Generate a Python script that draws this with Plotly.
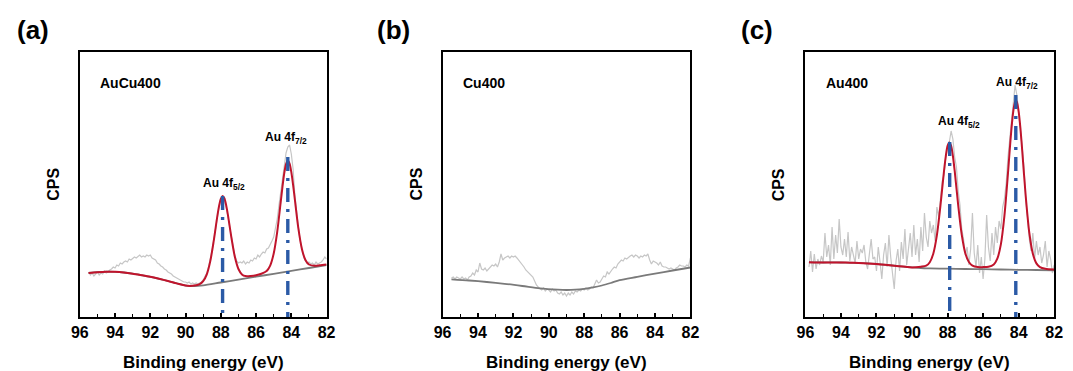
import numpy as np
import plotly.graph_objects as go

# ---------------- data ----------------
# energy grids (binding energy, eV) for the raw spectra
E_raw_ab = np.round(np.linspace(95.5, 82.0, 136), 2)
E_raw_c = np.round(np.linspace(95.8, 82.0, 139), 2)

# (a) AuCu400 raw spectrum (arbitrary CPS units)
raw_a = [45, 42, 44, 41, 43, 45, 42, 44, 43, 46, 44, 45, 47,
         48, 50, 49, 52, 51, 54, 53, 55, 56, 55, 58, 57, 59,
         60, 59, 61, 62, 60, 61, 60, 62, 61, 62, 59,
         58, 57, 54, 53, 51, 50, 48, 47, 45, 44, 43, 41, 40, 39,
         38, 37, 36, 35, 35, 34, 35, 33, 34, 33, 34, 33, 34, 35, 37,
         41, 44, 50, 57, 66, 77, 89, 101, 110, 117, 119, 118, 111, 101, 90, 79, 69, 61, 56,
         54, 55, 54, 56, 53, 55, 54, 57, 56, 59,
         58, 62, 60, 63, 65, 64, 68, 69, 72, 76,
         80, 88, 98, 112, 126, 140, 153, 164, 170, 172,
         163, 148, 122, 104, 90, 77, 67, 60, 56, 54,
         55, 53, 54, 52, 55, 53, 54, 55, 57, 60,
         58]

# (a) fit: energies, baseline and envelope
E_fit_a = [95.5, 95.0, 94.5, 94.0, 93.5, 93.0, 92.5, 92.0, 91.5, 91.0, 90.5, 90.0,
           89.5, 89.2, 89.0, 88.8, 88.6, 88.4, 88.2, 88.1, 88.0, 87.9, 87.8, 87.7,
           87.6, 87.4, 87.2, 87.0, 86.8, 86.6, 86.3, 86.0, 85.7, 85.4, 85.2, 85.0,
           84.8, 84.6, 84.5, 84.4, 84.3, 84.2, 84.1, 84.0, 83.9, 83.8, 83.6, 83.4,
           83.2, 83.0, 82.7, 82.4, 82.0]
env_a = [44.0, 44.8, 45.3, 45.2, 44.5, 43.3, 41.8, 40.2, 38.2, 36.0, 33.6, 31.4,
         31.4, 32.8, 35.8, 42.4, 55.6, 76.3, 100.6, 110.9, 118.1, 121.0, 118.7, 112.1,
         102.4, 79.5, 59.9, 48.0, 42.6, 40.9, 41.0, 41.7, 43.2, 45.9, 51.4, 63.5,
         85.2, 115.3, 130.5, 143.8, 152.9, 156.5, 153.4, 144.9, 132.2, 117.5, 88.6, 68.1,
         57.0, 52.5, 51.3, 51.7, 52.6]
E_base_a = [95.5, 95.0, 94.5, 94.0, 93.5, 93.0, 92.5, 92.0, 91.5, 91.0, 90.5, 90.0,
            89.5, 89.0, 88.0, 87.0, 86.0, 85.0, 84.0, 83.0, 82.0]
base_a = [44.0, 44.8, 45.3, 45.2, 44.5, 43.3, 41.8, 40.2, 38.2, 36.0, 33.6, 31.4,
          30.8, 31.6, 34.5, 37.4, 40.3, 43.2, 46.1, 49.0, 52.0]

# (b) Cu400 raw spectrum and baseline
raw_b = [39, 40, 38, 40, 39, 38, 40, 38, 39, 37, 40,
         41, 44, 42, 47, 45, 54, 48, 47, 49, 46,
         48, 50, 52, 51, 53, 50, 55, 63, 57, 59,
         60, 61, 59, 61, 60, 61, 59, 57, 55, 52,
         50, 47, 45, 44, 41, 40, 36, 32, 30, 28,
         27, 29, 26, 28, 27, 25, 28, 26, 27, 24,
         23, 25, 22, 24, 21, 24, 22, 25, 23, 26,
         25, 27, 26, 28, 27, 29, 27, 28, 30, 29,
         33, 37, 34, 35, 38, 41, 40, 45, 43, 46,
         48, 50, 49, 53, 55, 57, 56, 59, 58, 60,
         61, 62, 60, 62, 61, 59, 61, 60, 62, 61,
         63, 57, 53, 56, 55, 54, 52, 55, 51, 50,
         50, 49, 48, 49, 48, 47, 49, 50, 52, 51,
         51, 50, 52, 51, 59]
E_base_b = [95.5, 94.5, 93.5, 92.5, 91.5, 90.5, 89.5, 89.0, 88.5, 88.0, 87.5, 87.0,
            86.5, 86.0, 85.0, 84.0, 83.0, 82.0]
base_b = [37.7, 36.5, 35.0, 33.2, 31.0, 28.6, 27.3, 27.0, 27.3, 28.2, 29.6, 31.5,
          34.0, 36.8, 40.1, 43.4, 46.5, 49.5]

# (c) Au400 raw spectrum
raw_c = [50, 66, 45, 63, 48, 58, 52, 61, 55, 84,
         60, 72, 52, 90, 58, 82, 64, 98, 70, 62,
         78, 60, 85, 56, 70, 62, 54, 76, 58, 68,
         64, 72, 55, 48, 66, 78, 58, 60, 46, 70,
         55, 38, 62, 74, 50, 82, 60, 45, 28, 56,
         68, 46, 75, 58, 88, 52, 70, 84, 60, 92,
         62, 78, 55, 90, 66, 104, 80, 70, 96, 84,
         92, 76, 110, 100, 118, 136, 142, 160, 168, 175,
         186, 178, 160, 150, 126, 112, 88, 78, 62, 70,
         52, 68, 104, 64, 50, 72, 44, 60, 38, 58,
         102, 70, 56, 84, 62, 90, 74, 96, 88, 110,
         118, 134, 160, 178, 198, 214, 232, 222, 206, 184,
         170, 150, 118, 100, 78, 66, 84, 58, 76, 62,
         70, 54, 62, 76, 50, 66, 58, 44, 52]

E_fit_c = [95.8, 95.5, 95.0, 94.5, 94.0, 93.5, 93.0, 92.5, 92.0, 91.5, 91.0, 90.5, 90.0,
           89.5, 89.2, 89.0, 88.8, 88.6, 88.4, 88.2, 88.1, 88.0, 87.9, 87.8, 87.7,
           87.6, 87.4, 87.2, 87.0, 86.8, 86.6, 86.3, 86.0, 85.7, 85.4, 85.2, 85.0,
           84.8, 84.6, 84.5, 84.4, 84.3, 84.2, 84.15, 84.1, 84.0, 83.9, 83.8, 83.6, 83.4,
           83.2, 83.0, 82.8, 82.5, 82.0]
env_c = [54.7, 54.6, 54.5, 54.6, 54.5, 54.3, 54.0, 53.6, 53.0, 52.2, 51.3, 50.4, 49.6,
         50.3, 51.3, 54.8, 63.5, 81.8, 111.4, 146.0, 160.7, 171.1, 174.5, 171.1, 161.0,
         146.3, 111.6, 82.1, 63.7, 55.0, 51.4, 49.9, 49.9, 50.2, 52.5, 58.3, 72.6,
         101.1, 143.6, 167.3, 189.0, 205.9, 215.3, 216.4, 215.1, 205.7, 188.8, 166.9, 120.5, 84.3,
         63.3, 53.6, 49.9, 48.3, 47.5]
E_base_c = [95.8, 95.5, 95.0, 94.5, 94.0, 93.5, 93.0, 92.5, 92.0, 91.5, 91.0, 90.5, 90.0,
            89.5, 89.2, 89.0, 88.0, 87.0, 86.0, 85.0, 84.0, 83.0, 82.0]
base_c = [54.7, 54.6, 54.5, 54.6, 54.5, 54.3, 54.0, 53.6, 53.0, 52.2, 51.3, 50.4, 49.6,
          49.0, 48.7, 48.6, 48.3, 48.0, 47.8, 47.5, 47.2, 47.0, 46.7]

# peak assignments (position eV, marker top)
peak_names = ["Au 4f<sub>5/2</sub>", "Au 4f<sub>7/2</sub>"]
peak_pos_a = [87.9, 84.2]
peak_top_a = [121, 160]
peak_pos_c = [87.88, 84.16]
peak_top_c = [175, 222]

sample_names = ["AuCu400", "Cu400", "Au400"]
panel_letters = ["(a)", "(b)", "(c)"]
x_ticks = [96, 94, 92, 90, 88, 86, 84, 82]

# ---------------- styling ----------------
FONT = "Liberation Sans, Arial, sans-serif"
RAW_C = "#c6c6c6"
BASE_C = "#7a7a7a"
FIT_C = "#c0142c"
BLUE = "#2b5aa6"

fig = go.Figure()

W, H = 1073, 371
domains = [(72 / W, 323 / W), (441 / W, 693 / W), (810 / W, 1063 / W)]
ydom = (1 - 317 / H, 1 - 52 / H)
letter_px = [6, 372, 742]


def add_line(x, y, idx, color, width, shape="linear", dash=None):
    fig.add_trace(go.Scatter(
        x=x, y=y, mode="lines", xaxis=f"x{idx if idx > 1 else ''}",
        yaxis=f"y{idx if idx > 1 else ''}", showlegend=False, hoverinfo="skip",
        line=dict(color=color, width=width, shape=shape, dash=dash,
                  smoothing=0.8 if shape == "spline" else None)))


# panel a
add_line(E_raw_ab, raw_a, 1, RAW_C, 1.2)
add_line(E_base_a, base_a, 1, BASE_C, 1.8, "spline")
add_line(E_fit_a, env_a, 1, FIT_C, 2.0, "spline")
# panel b
add_line(E_raw_ab, raw_b, 2, RAW_C, 1.2)
add_line(E_base_b, base_b, 2, BASE_C, 1.8, "spline")
# panel c
add_line(E_raw_c, raw_c, 3, RAW_C, 1.2)
add_line(E_base_c, base_c, 3, BASE_C, 1.8, "spline")
add_line(E_fit_c, env_c, 3, FIT_C, 2.0, "spline")

# dash-dot peak markers
for idx, (pos, top) in [(1, (peak_pos_a, peak_top_a)), (3, (peak_pos_c, peak_top_c))]:
    for p, t in zip(pos, top):
        add_line([p, p], [t, 0], idx, BLUE, 3.4, dash="14px,7px,3px,7px")

layout = dict(width=W, height=H, margin=dict(l=0, r=0, t=0, b=0),
              plot_bgcolor="white", paper_bgcolor="white",
              font=dict(family=FONT, color="black"))

for i, dom in enumerate(domains, start=1):
    sfx = "" if i == 1 else str(i)
    layout[f"xaxis{sfx}"] = dict(
        domain=list(dom), anchor=f"y{sfx}", range=[96, 82], autorange=False,
        tickvals=x_ticks, ticks="inside", ticklen=4, tickwidth=1.5, tickcolor="black",
        minor=dict(ticks="inside", ticklen=3, tickwidth=1.2, dtick=1, tick0=83, tickcolor="black"),
        showline=True, mirror=True, linecolor="black", linewidth=2,
        showgrid=False, zeroline=False,
        tickfont=dict(family=FONT, size=16, weight="bold", color="black"))
    layout[f"yaxis{sfx}"] = dict(
        domain=list(ydom), anchor=f"x{sfx}", range=[0, 265], autorange=False,
        showticklabels=False, ticks="", showline=True, mirror=True,
        linecolor="black", linewidth=2, showgrid=False, zeroline=False)

fig.update_layout(**layout)

ann = []
for i, dom in enumerate(domains):
    cx = (dom[0] + dom[1]) / 2
    ann.append(dict(text="Binding energy (eV)", x=cx, y=1 - 362 / H, xref="paper", yref="paper",
                    showarrow=False, font=dict(size=17, weight="bold"), xanchor="center", yanchor="middle"))
    ann.append(dict(text="CPS", x=dom[0] - 27 / W, y=(ydom[0] + ydom[1]) / 2, xref="paper", yref="paper",
                    showarrow=False, textangle=-90, font=dict(size=16, weight="bold"),
                    xanchor="center", yanchor="middle"))
    ann.append(dict(text=sample_names[i], x=dom[0] + 19 / W, y=1 - 83 / H, xref="paper", yref="paper",
                    showarrow=False, font=dict(size=14, weight="bold"), xanchor="left", yanchor="middle"))
    ann.append(dict(text=panel_letters[i], x=letter_px[i] / W, y=1 - 30 / H, xref="paper", yref="paper",
                    showarrow=False, font=dict(size=26, weight="bold"), xanchor="left", yanchor="middle"))

# peak labels
for (xr, yr, lx, ly) in [("x", "y", [87.82, 84.3], [133, 179]), ("x3", "y3", [87.33, 84.07], [195, 234])]:
    for name, xx, yy in zip(peak_names, lx, ly):
        ann.append(dict(text=name, x=xx, y=yy, xref=xr, yref=yr, showarrow=False,
                        font=dict(size=12, weight="bold"), xanchor="center", yanchor="middle"))

fig.update_layout(annotations=ann)
fig.write_html("out.html")
